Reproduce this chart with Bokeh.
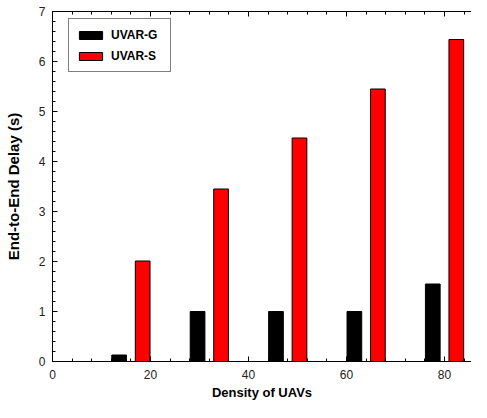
from bokeh.plotting import figure
from bokeh.models import Range1d, LinearAxis, SingleIntervalTicker, Legend, LegendItem, ColumnDataSource, CustomLabelingPolicy
from bokeh.embed import file_html
from bokeh.resources import INLINE

# Data
density = [16, 32, 48, 64, 80]
uvar_g = [0.13, 1.0, 1.0, 1.0, 1.55]
uvar_s = [2.01, 3.45, 4.47, 5.45, 6.44]
series_names = ["UVAR-G", "UVAR-S"]

offset = 2.4
bar_w = 3.0

src = ColumnDataSource(dict(
    x=density,
    g=uvar_g,
    s=uvar_s,
    xg=[d - offset for d in density],
    xs=[d + offset for d in density],
))

p = figure(width=471, height=402, output_backend="svg", toolbar_location=None,
           x_range=Range1d(0, 85.5), y_range=Range1d(0, 7),
           min_border_left=52, min_border_right=0, min_border_top=11, min_border_bottom=41,
           x_axis_label="Density of UAVs", y_axis_label="End-to-End Delay (s)")
p.outline_line_color = None
p.xgrid.visible = False
p.ygrid.visible = False
p.background_fill_color = "white"
p.border_fill_color = "white"

rg = p.vbar(x="xg", top="g", width=bar_w, source=src, fill_color="black", line_color="black", line_width=1)
rs = p.vbar(x="xs", top="s", width=bar_w, source=src, fill_color="#ff0000", line_color="black", line_width=1)

FONT = "Liberation Sans"

for ax in (p.xaxis[0], p.yaxis[0]):
    ax.axis_line_color = "black"
    ax.axis_line_width = 1
    ax.major_tick_line_color = "black"
    ax.minor_tick_line_color = "black"
    ax.major_tick_in = 5
    ax.major_tick_out = 0
    ax.minor_tick_in = 3
    ax.minor_tick_out = 0
    ax.major_label_text_font = FONT
    ax.major_label_text_font_size = "12px"
    ax.major_label_text_color = "#222222"
    ax.axis_label_text_font = FONT
    ax.axis_label_text_font_style = "bold"
    ax.axis_label_text_color = "black"

p.xaxis[0].ticker = SingleIntervalTicker(interval=20, num_minor_ticks=5)
p.yaxis[0].ticker = SingleIntervalTicker(interval=1, num_minor_ticks=5)
p.xaxis[0].major_label_standoff = 8
p.xaxis[0].axis_label_standoff = 3
p.xaxis[0].axis_label_text_font_size = "13px"
p.yaxis[0].major_label_standoff = 7
p.yaxis[0].axis_label_standoff = 14
p.yaxis[0].axis_label_text_font_size = "15px"

top = LinearAxis(ticker=SingleIntervalTicker(interval=20, num_minor_ticks=5))
top.axis_line_color = "black"
top.major_tick_line_color = "black"
top.minor_tick_line_color = "black"
top.major_tick_in = 5
top.major_tick_out = 0
top.minor_tick_in = 3
top.minor_tick_out = 0
top.major_label_text_font_size = "1px"
top.major_label_standoff = 0
top.major_label_policy = CustomLabelingPolicy(code="""
const ids = [...indices];
for (const i of ids) indices.unset(i);
return indices;
""")
p.add_layout(top, "above")

legend = Legend(items=[LegendItem(label=series_names[0], renderers=[rg]),
                       LegendItem(label=series_names[1], renderers=[rs])],
                location=(16, 289))
legend.border_line_color = "black"
legend.border_line_width = 1
legend.background_fill_color = "white"
legend.background_fill_alpha = 1
legend.padding = 7
legend.spacing = 4
legend.margin = 0
legend.glyph_width = 29
legend.glyph_height = 10
legend.label_height = 17
legend.label_width = 52
legend.label_standoff = 6
legend.label_text_font = FONT
legend.label_text_font_style = "bold"
legend.label_text_font_size = "12px"
legend.label_text_color = "black"
p.add_layout(legend, "center")

open("out.html", "w").write(file_html(p, INLINE))
